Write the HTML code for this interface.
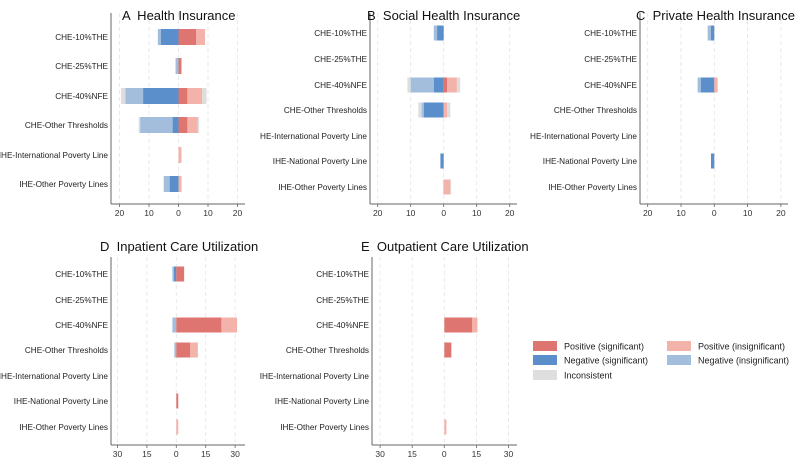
<!DOCTYPE html>
<html><head><meta charset="utf-8"><style>
html,body{margin:0;padding:0;background:#fff;}
svg{display:block;font-family:"Liberation Sans",Arial,sans-serif;}
.pt{white-space:pre;}
</style></head><body>
<svg id="chart" width="800" height="457" viewBox="0 0 800 457"></svg>
<script>
const catsA = ["CHE-10%THE","CHE-25%THE","CHE-40%NFE","CHE-Other Thresholds","IHE-International Poverty Line","IHE-Other Poverty Lines"];
const cats7 = ["CHE-10%THE","CHE-25%THE","CHE-40%NFE","CHE-Other Thresholds","IHE-International Poverty Line","IHE-National Poverty Line","IHE-Other Poverty Lines"];
const ticksAC = [-20,-10,0,10,20];
const ticksDE = [-30,-15,0,15,30];
// Panel A
const aPosSig = [6,1,3,3,0,0];
const aPosIns = [3,0,5,3.5,1,1];
const aNegSig = [6,0,12,2,0,3];
const aNegIns = [1,1,6,11,0,2];
const aIncon  = [0,0,3,1,0,0];
// Panel B
const bPosSig = [0,0,1,0,0,0,0];
const bPosIns = [0,0,3,1,0,0,2];
const bNegSig = [2,0,3,6,0,1,0];
const bNegIns = [1,0,7,0.7,0,0,0];
const bIncon  = [0,0,2,2,0,0,0.5];
// Panel C
const cPosSig = [0,0,0,0,0,0,0];
const cPosIns = [0,0,1,0,0,0,0];
const cNegSig = [1,0,4,0,0,1,0];
const cNegIns = [1,0,1,0,0,0,0];
const cIncon  = [0,0,0,0,0,0,0];
// Panel D
const dPosSig = [4,0,23,7,0,1,0];
const dPosIns = [0,0,8,4,0,0,1];
const dNegSig = [1.2,0,0,0,0,0,0];
const dNegIns = [0.8,0,2,1,0,0,0];
const dIncon  = [0,0,0,0,0,0,0];
// Panel E
const ePosSig = [0,0,13,3.3,0,0,0];
const ePosIns = [0,0,2.5,0,0,0,1];
const eNegSig = [0,0,0,0,0,0,0];
const eNegIns = [0,0,0,0,0,0,0];
const eIncon  = [0,0,0,0,0,0,0];

const COL = {ps:"#de7570",pi:"#f3b3ab",ns:"#5b8fcc",ni:"#a3bedd",ic:"#dedede"};
const NS = "http://www.w3.org/2000/svg";
const svg = document.getElementById("chart");
function mk(tag, attrs, parent){
  const e = document.createElementNS(NS, tag);
  for (const k in attrs) e.setAttribute(k, attrs[k]);
  (parent||svg).appendChild(e);
  return e;
}
const defs = mk("defs", {});

function panel(cfg){
  const cp = mk("clipPath", {id:"clip"+cfg.key}, defs);
  mk("rect", {x:cfg.clip[0], y:cfg.clipY[0], width:cfg.clip[1]-cfg.clip[0], height:cfg.clipY[1]-cfg.clipY[0]}, cp);
  const g = mk("g", {"clip-path":"url(#clip"+cfg.key+")"});
  
  
  const xs = v => cfg.zero + v*cfg.scale;
  const ys = i => cfg.rows[i];
  cfg.ticks.forEach(t => {
    const l = mk("line", {x1:xs(t), x2:xs(t), y1:cfg.yTop, y2:cfg.yBot, stroke:"#e4e4e4", "stroke-width":0.8, "stroke-dasharray":"4,3"}, g);
    
    
  });
  cfg.cats.forEach((c, i) => {
    const y = ys(i) - cfg.bh/2;
    const ps = cfg.ps[i], pi = cfg.pi[i], ns = cfg.ns[i], ni = cfg.ni[i], ic = cfg.ic[i]/2;
    const segs = [
      [-(ns+ni+ic), -(ns+ni), COL.ic, "bar-inconsistent"],
      [-(ns+ni), -ns, COL.ni, "bar-negative-insignificant"],
      [-ns, 0, COL.ns, "bar-negative-significant"],
      [ps+pi, ps+pi+ic, COL.ic, "bar-inconsistent"],
      [ps, ps+pi, COL.pi, "bar-positive-insignificant"],
      [0, ps, COL.ps, "bar-positive-significant"]
    ];
    segs.forEach(s => {
      const w = xs(s[1]) - xs(s[0]);
      if (w <= 0) return;
      const r = mk("rect", {x:xs(s[0]), y:y, width:w, height:cfg.bh, fill:s[2]}, g);
      
      
    });
    const t = mk("text", {x:cfg.labelR, y:ys(i)+3, "text-anchor":"end", "font-size":8.2, fill:"#222"}, g);
    t.textContent = c;
    
    
  });
  const ax = mk("line", {x1:cfg.axisX, x2:cfg.axisX, y1:cfg.yTop, y2:cfg.yBot, stroke:"#666", "stroke-width":1}, g);
  
  
  const bx = mk("line", {x1:cfg.axisX, x2:cfg.xEnd, y1:cfg.yBot, y2:cfg.yBot, stroke:"#666", "stroke-width":1}, g);
  
  
  cfg.ticks.forEach(t => {
    mk("line", {x1:xs(t), x2:xs(t), y1:cfg.yBot, y2:cfg.yBot+3, stroke:"#666", "stroke-width":0.8}, g);
    const tl = mk("text", {x:xs(t), y:cfg.yBot+12, "text-anchor":"middle", "font-size":8.5, fill:"#333"}, g);
    tl.textContent = Math.abs(t);
    
    
  });
  const ti = mk("text", {x:cfg.titleX, y:cfg.titleY, "font-size":13, fill:"#111", "class":"pt"}, g);
  ti.textContent = cfg.title;
  
  
}

const rowsTop = [33,59,85,110,136,161,187];
const rowsBot = [274,300,325,350,376,401,427];
panel({key:"A", title:"A  Health Insurance", cats:catsA, ticks:ticksAC, ps:aPosSig, pi:aPosIns, ns:aNegSig, ni:aNegIns, ic:aIncon,
  axisX:111, zero:178.5, scale:2.95, yTop:13, yBot:204, xEnd:245, rows:[37,66,96,125,155,184], bh:16,
  clip:[0,260], clipY:[0,230], labelR:108, titleX:122, titleY:20});
panel({key:"B", title:"B  Social Health Insurance", cats:cats7, ticks:ticksAC, ps:bPosSig, pi:bPosIns, ns:bNegSig, ni:bNegIns, ic:bIncon,
  axisX:370, zero:443.7, scale:3.3, yTop:13, yBot:204, xEnd:517, rows:rowsTop, bh:15,
  clip:[260,530], clipY:[0,230], labelR:367, titleX:367, titleY:20});
panel({key:"C", title:"C  Private Health Insurance", cats:cats7, ticks:ticksAC, ps:cPosSig, pi:cPosIns, ns:cNegSig, ni:cNegIns, ic:cIncon,
  axisX:640, zero:714.3, scale:3.33, yTop:13, yBot:204, xEnd:788, rows:rowsTop, bh:15,
  clip:[530,800], clipY:[0,230], labelR:637, titleX:636, titleY:20});
panel({key:"D", title:"D  Inpatient Care Utilization", cats:cats7, ticks:ticksDE, ps:dPosSig, pi:dPosIns, ns:dNegSig, ni:dNegIns, ic:dIncon,
  axisX:111, zero:176.3, scale:1.96, yTop:257, yBot:445, xEnd:245, rows:rowsBot, bh:15,
  clip:[0,258], clipY:[230,457], labelR:108, titleX:100, titleY:251});
panel({key:"E", title:"E  Outpatient Care Utilization", cats:cats7, ticks:ticksDE, ps:ePosSig, pi:ePosIns, ns:eNegSig, ni:eNegIns, ic:eIncon,
  axisX:372, zero:444.3, scale:2.14, yTop:257, yBot:445, xEnd:517, rows:rowsBot, bh:15,
  clip:[260,528], clipY:[230,457], labelR:369, titleX:361, titleY:251});

const legItems = [
  ["Positive (significant)", COL.ps, 533, 341],
  ["Positive (insignificant)", COL.pi, 667, 341],
  ["Negative (significant)", COL.ns, 533, 355],
  ["Negative (insignificant)", COL.ni, 667, 355],
  ["Inconsistent", COL.ic, 533, 370]
];
const lg = mk("g", {});


legItems.forEach(it => {
  const r = mk("rect", {x:it[2], y:it[3], width:24, height:10, fill:it[1]}, lg);
  
  
  const t = mk("text", {x:it[2]+31, y:it[3]+8.5, "font-size":9, fill:"#222"}, lg);
  t.textContent = it[0];
  
  
});
</script>
</body></html>
